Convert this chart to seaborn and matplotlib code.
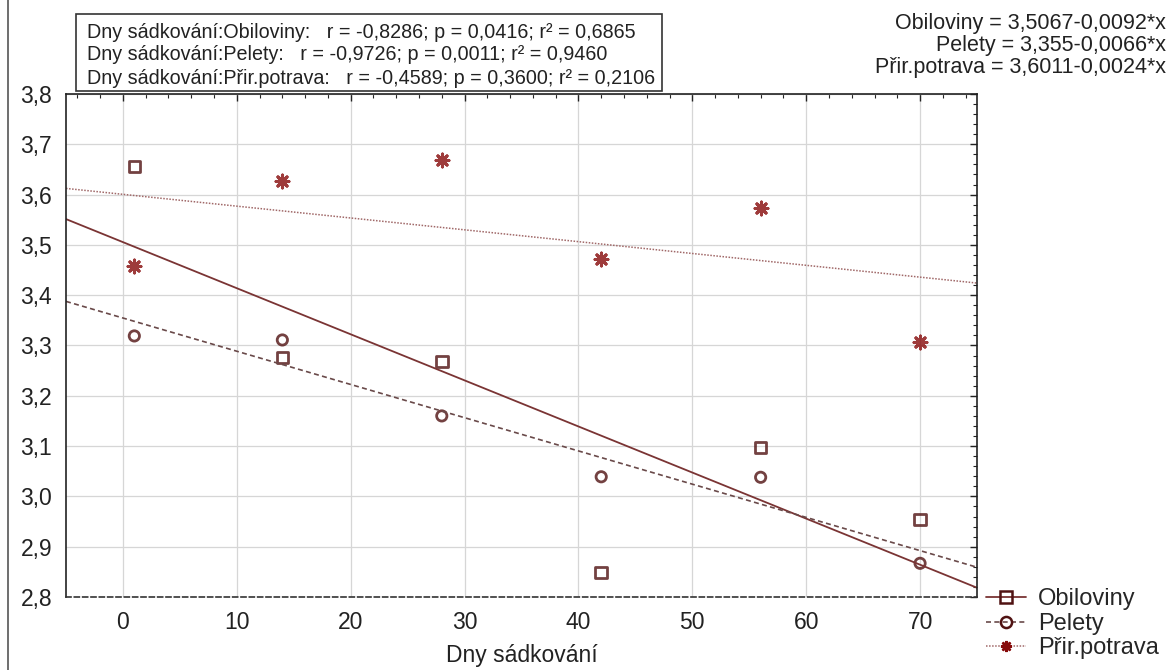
import pandas as pd
import seaborn as sns
import matplotlib.pyplot as plt
from matplotlib.lines import Line2D
from matplotlib.patches import Rectangle
from matplotlib.ticker import MultipleLocator, FuncFormatter

# ==================================================
# data
# ==================================================
days = [1, 14, 28, 42, 56, 70]
obiloviny = [3.656, 3.276, 3.268, 2.849, 3.097, 2.954]
pelety = [3.319, 3.311, 3.160, 3.039, 3.038, 2.867]
prir_potrava = [3.459, 3.627, 3.669, 3.472, 3.574, 3.306]

series_names = ["Obiloviny", "Pelety", "Přir.potrava"]
stats_lines = [
    "Dny sádkování:Obiloviny:   r = -0,8286; p = 0,0416; r² = 0,6865",
    "Dny sádkování:Pelety:   r = -0,9726; p = 0,0011; r² = 0,9460",
    "Dny sádkování:Přir.potrava:   r = -0,4589; p = 0,3600; r² = 0,2106",
]
equations = [
    "Obiloviny = 3,5067-0,0092*x",
    "Pelety = 3,355-0,0066*x",
    "Přir.potrava = 3,6011-0,0024*x",
]

df = pd.DataFrame({
    "Dny sádkování": days,
    "Obiloviny": obiloviny,
    "Pelety": pelety,
    "Přir.potrava": prir_potrava,
})

# ==================================================
# style
# ==================================================
sns.set_theme(style="white")
plt.rcParams["font.family"] = ["Liberation Sans", "DejaVu Sans"]
plt.rcParams["axes.unicode_minus"] = False

W, H = 1176, 670
fig = plt.figure(figsize=(W / 100, H / 100), dpi=100)
ax = fig.add_axes([66 / W, 1 - 597 / H, (977 - 66) / W, (597 - 94) / H])

ax.set_xlim(-5, 75)
ax.set_ylim(2.8, 3.8)

marker_col = "#501212"
star_col = "#860a0a"
styles = {
    "Obiloviny": dict(marker="s", line=dict(color="#7a3434", lw=1.3, ls="-"),
                      pts=dict(s=70, facecolors="none", edgecolors=marker_col, linewidths=2.0)),
    "Pelety": dict(marker="o", line=dict(color="#6a4a4a", lw=1.2, ls=(0, (3, 2))),
                   pts=dict(s=55, facecolors="none", edgecolors=marker_col, linewidths=2.0)),
    "Přir.potrava": dict(marker=(8, 2, 0), line=dict(color="#a06868", lw=1.1, ls=(0, (1, 1))),
                         pts=dict(s=85, color=star_col, linewidths=2.2)),
}

for name in series_names:
    st = styles[name]
    sns.regplot(
        data=df, x="Dny sádkování", y=name, ax=ax,
        ci=None, truncate=False, marker=st["marker"],
        scatter_kws=st["pts"], line_kws=st["line"],
    )

# ==================================================
# axes look
# ==================================================
ax.xaxis.set_major_locator(MultipleLocator(10))
ax.xaxis.set_minor_locator(MultipleLocator(2))
ax.yaxis.set_major_locator(MultipleLocator(0.1))
ax.yaxis.set_minor_locator(MultipleLocator(0.02))
ax.set_xticks(range(0, 71, 10))
ax.xaxis.set_major_formatter(FuncFormatter(lambda v, p: f"{v:.0f}"))
ax.yaxis.set_major_formatter(FuncFormatter(lambda v, p: f"{v:.1f}".replace(".", ",")))

ax.tick_params(which="both", direction="in", top=True, right=True, colors="#222222",
               labelcolor="#222222")
ax.tick_params(which="major", length=5, width=1.0, labelsize=16.5, pad=10)
ax.tick_params(which="minor", length=3, width=0.8)
ax.set_xlim(-5, 75)

ax.grid(True, which="major", color="#d6d6d6", lw=0.9)
for side in ["left", "right", "top"]:
    ax.spines[side].set_color("#222222")
    ax.spines[side].set_linewidth(1.2)
ax.spines["bottom"].set_color("#333333")
ax.spines["bottom"].set_linewidth(1.2)
ax.spines["bottom"].set_linestyle((0, (3, 2)))

ax.set_xlabel("Dny sádkování", fontsize=16.5, color="#222222", labelpad=7)
ax.set_ylabel("")

# ==================================================
# stats box, equations, legend
# ==================================================
fig.add_artist(Rectangle((76 / W, 1 - 91 / H), (662 - 76) / W, (91 - 14) / H,
                         transform=fig.transFigure, fill=False, ec="#333333", lw=1.2))
for i, txt in enumerate(stats_lines):
    fig.text(87 / W, 1 - (32 + 23 * i) / H, txt, fontsize=14.2, va="center",
             ha="left", color="#222222")

for i, txt in enumerate(equations):
    fig.text(1166 / W, 1 - (24 + 22 * i) / H, txt, fontsize=15.5, va="center",
             ha="right", color="#222222")

handles = [
    Line2D([], [], color=styles[n]["line"]["color"], lw=styles[n]["line"]["lw"],
           ls=styles[n]["line"]["ls"], marker=styles[n]["marker"],
           markersize=8, markerfacecolor="none" if n != "Přir.potrava" else star_col,
           markeredgecolor=marker_col if n != "Přir.potrava" else star_col,
           markeredgewidth=1.8)
    for n in series_names
]
fig.legend(handles, series_names, loc="lower left", bbox_to_anchor=(972 / W, -0.005),
           frameon=False, fontsize=17, handlelength=1.7, handletextpad=0.5,
           labelspacing=0.1, borderaxespad=0.2)

# left border line of the original screenshot
fig.add_artist(Line2D([8 / W, 8 / W], [0, 1], transform=fig.transFigure,
                      color="#555555", lw=1.2))

plt.savefig("out.png", dpi=100)
plt.close()
